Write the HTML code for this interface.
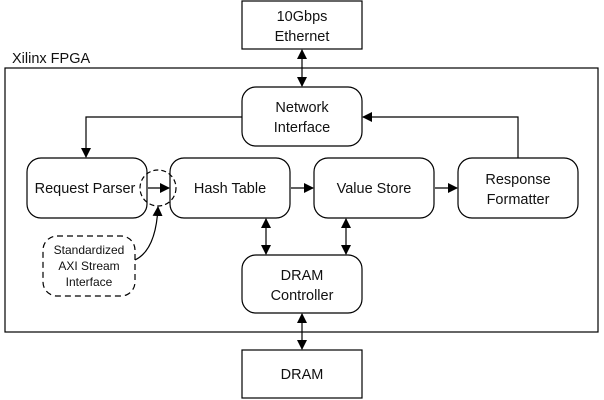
<!DOCTYPE html><html><head><style>body{margin:0;background:#fff}svg{display:block}text{font-family:"Liberation Sans",sans-serif;font-size:14.5px;fill:#111;text-anchor:middle}</style></head><body>
<svg width="604" height="400" viewBox="0 0 604 400">
<defs><marker id="a" markerWidth="10" markerHeight="10" refX="9" refY="5" orient="auto" markerUnits="userSpaceOnUse"><path d="M0,0 L10,5 L0,10z" fill="#000"/></marker>
<marker id="s" markerWidth="10" markerHeight="10" refX="1" refY="5" orient="auto" markerUnits="userSpaceOnUse"><path d="M10,0 L0,5 L10,10z" fill="#000"/></marker></defs>
<g fill="none" stroke="#000" stroke-width="1.2">
<rect x="242" y="1" width="120" height="48"/>
<rect x="5" y="68" width="593" height="264"/>
<rect x="242" y="87" width="120" height="59" rx="14"/>
<rect x="27" y="158" width="120" height="60" rx="14"/>
<rect x="170" y="158" width="120" height="60" rx="14"/>
<rect x="314" y="158" width="120" height="60" rx="14"/>
<rect x="458" y="158" width="120" height="60" rx="14"/>
<rect x="242" y="255" width="120" height="58" rx="14"/>
<rect x="242" y="350" width="120" height="48"/>
<rect x="43" y="236" width="92" height="60" rx="14" stroke-dasharray="6,4"/>
<circle cx="158" cy="188" r="18" stroke-dasharray="5,3"/>
<path d="M242,117 H86 V157" marker-end="url(#a)"/>
<path d="M518,158 V117 H363" marker-end="url(#a)"/>
<path d="M148,188 H169" marker-end="url(#a)"/>
<path d="M291,188 H313" marker-end="url(#a)"/>
<path d="M435,188 H457" marker-end="url(#a)"/>
<path d="M302,50 V86" marker-start="url(#s)" marker-end="url(#a)"/>
<path d="M266,219 V254" marker-start="url(#s)" marker-end="url(#a)"/>
<path d="M346,219 V254" marker-start="url(#s)" marker-end="url(#a)"/>
<path d="M302,314 V349" marker-start="url(#s)" marker-end="url(#a)"/>
<path d="M135,260 Q156,250 158,207" marker-end="url(#a)"/>
</g>
<text x="302" y="21">10Gbps</text><text x="302" y="41">Ethernet</text>
<text x="12" y="63" style="text-anchor:start">Xilinx FPGA</text>
<text x="302" y="112">Network</text><text x="302" y="132">Interface</text>
<text x="85" y="193">Request Parser</text>
<text x="230" y="193">Hash Table</text>
<text x="374" y="193">Value Store</text>
<text x="518" y="184">Response</text><text x="518" y="204">Formatter</text>
<text x="302" y="280">DRAM</text><text x="302" y="300">Controller</text>
<text x="302" y="379">DRAM</text>
<text x="89" y="254" style="font-size:12px">Standardized</text><text x="89" y="270" style="font-size:12px">AXI Stream</text><text x="89" y="286" style="font-size:12px">Interface</text>
</svg></body></html>
